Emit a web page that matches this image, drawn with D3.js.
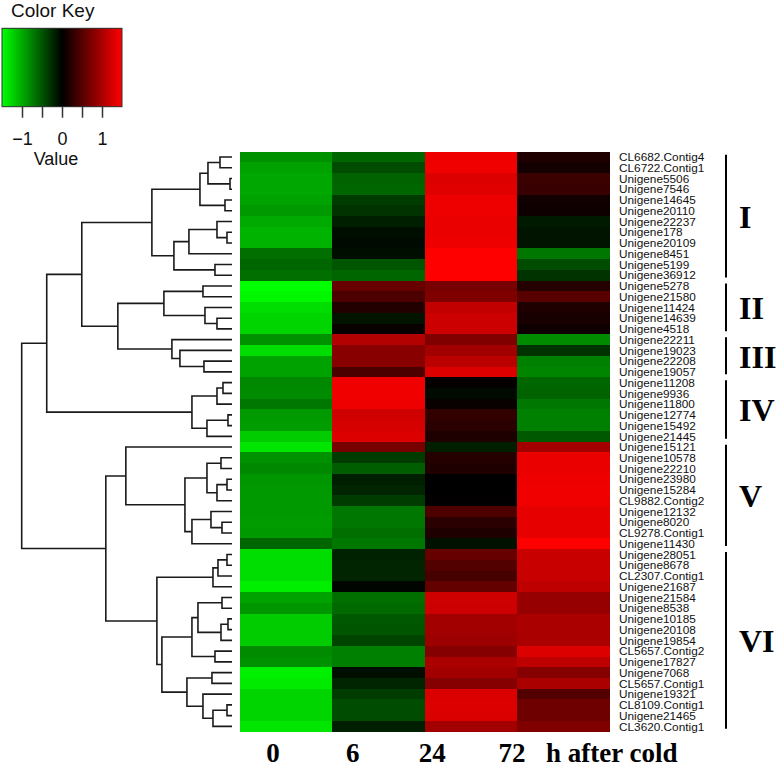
<!DOCTYPE html>
<html><head><meta charset="utf-8">
<script src="https://cdn.jsdelivr.net/npm/d3@7/dist/d3.min.js"></script>
<style>body{margin:0;background:#fff}svg{display:block}</style>
</head><body>
<script>
const timePoints = ["0","6","24","72"];
const genes = ["CL6682.Contig4","CL6722.Contig1","Unigene5506","Unigene7546","Unigene14645","Unigene20110","Unigene22237","Unigene178","Unigene20109","Unigene8451","Unigene5199","Unigene36912",
"Unigene5278","Unigene21580","Unigene11424","Unigene14639","Unigene4518",
"Unigene22211","Unigene19023","Unigene22208","Unigene19057",
"Unigene11208","Unigene9936","Unigene11800","Unigene12774","Unigene15492","Unigene21445",
"Unigene15121","Unigene10578","Unigene22210","Unigene23980","Unigene15284","CL9882.Contig2","Unigene12132","Unigene8020","CL9278.Contig1","Unigene11430",
"Unigene28051","Unigene8678","CL2307.Contig1","Unigene21687","Unigene21584","Unigene8538","Unigene10185","Unigene20108","Unigene19854","CL5657.Contig2","Unigene17827","Unigene7068","CL5657.Contig1","Unigene19321","CL8109.Contig1","Unigene21465","CL3620.Contig1"];
const values0h = [-0.85,-0.95,-0.98,-0.98,-0.95,-0.9,-1.0,-1.05,-1.05,-0.65,-0.6,-0.65,
-1.5,-1.45,-1.3,-1.25,-1.25,
-0.85,-1.3,-0.95,-0.95,
-0.8,-0.82,-0.7,-0.9,-0.92,-1.2,
-1.35,-0.85,-0.8,-0.88,-0.9,-0.9,-0.9,-0.92,-0.9,-0.6,
-1.3,-1.3,-1.3,-1.4,-0.95,-0.88,-1.2,-1.2,-1.2,-0.82,-0.85,-1.42,-1.38,-1.25,-1.25,-1.25,-1.35];
const values6h = [-0.6,-0.45,-0.58,-0.6,-0.35,-0.3,-0.18,-0.08,-0.06,-0.08,-0.5,-0.6,
0.62,0.45,0.2,-0.12,0.05,
1.05,0.8,0.8,0.45,
1.42,1.42,1.4,1.22,1.25,1.3,
0.7,-0.35,-0.55,-0.18,-0.22,-0.35,-0.7,-0.7,-0.65,-0.7,
-0.2,-0.22,-0.22,-0.03,-0.65,-0.62,-0.52,-0.5,-0.4,-0.75,-0.75,-0.08,-0.22,-0.35,-0.45,-0.45,-0.18];
const values24h = [1.4,1.42,1.3,1.32,1.4,1.4,1.38,1.38,1.4,1.5,1.5,1.5,
0.7,0.75,1.15,1.2,1.2,
0.75,0.95,1.1,1.3,
0.03,-0.06,0.05,0.3,0.25,0.18,
-0.18,0.22,0.18,0.0,0.0,0.01,0.45,0.25,0.18,-0.1,
0.6,0.48,0.42,0.58,1.22,1.2,0.95,0.95,0.92,0.78,1.0,0.95,0.78,1.28,1.3,1.28,0.95];
const values72h = [0.18,0.12,0.35,0.33,0.1,0.08,-0.15,-0.12,-0.12,-0.7,-0.45,-0.3,
0.22,0.52,0.18,0.15,0.08,
-0.82,-0.3,-0.75,-0.78,
-0.6,-0.58,-0.7,-0.75,-0.75,-0.52,
0.95,1.38,1.38,1.4,1.42,1.42,1.35,1.35,1.35,1.5,
1.18,1.18,1.18,1.12,0.88,0.88,1.0,1.0,1.0,1.3,1.12,0.78,1.0,0.48,0.65,0.65,0.75];
const series = [values0h, values6h, values24h, values72h];
const keyTicks = [-1,-0.5,0,0.5,1];
const keyTickLabels = ["-1","0","1"];
// dendrogram: [mergeHeight, left, right]; leaves are row indices
const dendrogram = [210,
  [185,
    [150,
      [80,
        [32,[24,[12,0,1],[2,2,3]],[7,4,5]],
        [58,[43,[15,6,[5,7,8]],9],[17,10,11]]],
      [114,
        [68,[29,12,13],[27,14,[15,15,16]]],
        [60,17,[52,18,[28,19,20]]]]],
    [40,[15,[9,21,22],23],[25,[4,24,25],26]]],
  [126,
    [106,27,[47,[25,[11,28,29],[15,[5,30,31],32]],[40,[21,33,[10,34,35]],36]]],
    [75,[19,[14,[5,37,38],39],40],
        [70,[40,[34,[10,41,42],[11,[4,43,44],45]],[17,46,47]],
            [45,[20,48,49],[29,50,[19,[5,51,52],53]]]]]]];
const clusterNames = ["I","II","III","IV","V","VI"];
const clusterFirst = [0,12,17,21,27,37];
const clusterLast = [11,16,20,26,36,53];
const axisTitle = "h after cold";

const W = 778, H = 770;
const svg = d3.select("body").append("svg").attr("width", W).attr("height", H);

const x = d3.scaleBand().domain(timePoints).range([240, 609]);
const y = d3.scaleBand().domain(d3.range(genes.length)).range([151.7, 731.7]);
const color = d3.scaleLinear().domain([-1.5, 0, 1.5]).range(["#00ff00", "#000000", "#ff0000"]);

// heatmap cells
const cells = [];
series.forEach((s, j) => s.forEach((v, i) => cells.push({t: timePoints[j], i, v})));
svg.append("g").selectAll("rect").data(cells).join("rect")
  .attr("x", d => x(d.t)).attr("y", d => y(d.i))
  .attr("width", x.bandwidth() + 0.5).attr("height", y.bandwidth() + 0.5)
  .attr("fill", d => color(d.v)).attr("shape-rendering", "crispEdges");

// row labels
svg.append("g").selectAll("text").data(genes).join("text")
  .attr("x", 619).attr("y", (d, i) => y(i) + y.bandwidth() / 2 + 4.2)
  .attr("font-family", "Liberation Sans, Arial, sans-serif").attr("font-size", 11.8)
  .attr("fill", "#111").text(d => d);

// dendrogram
function build(n) { return Array.isArray(n) ? {h: n[0], children: [build(n[1]), build(n[2])]} : {h: 0, leaf: n}; }
const root = d3.hierarchy(build(dendrogram));
const dx = d3.scaleLinear().domain([0, 210]).range([232, 21.7]);
root.eachAfter(nd => {
  if (nd.data.leaf !== undefined) nd.py = y(nd.data.leaf) + y.bandwidth() / 2;
  else nd.py = (nd.children[0].py + nd.children[1].py) / 2;
  nd.px = dx(nd.data.h);
});
const dg = svg.append("g").attr("stroke", "#1a1a1a").attr("stroke-width", 1.6).attr("fill", "none");
root.descendants().filter(nd => nd.children).forEach(nd => {
  const [a, b] = nd.children;
  dg.append("path").attr("d",
    `M${a.px},${a.py}H${nd.px}V${b.py}H${b.px}`);
});

// cluster bars & labels
const bars = svg.append("g");
clusterNames.forEach((name, k) => {
  const y0 = y(clusterFirst[k]) + 3, y1 = y(clusterLast[k]) + y.bandwidth() - 3;
  bars.append("line").attr("x1", 726).attr("x2", 726).attr("y1", y0).attr("y2", y1)
    .attr("stroke", "#000").attr("stroke-width", 2);
  bars.append("text").attr("x", 739).attr("y", (y0 + y1) / 2 + 12)
    .attr("font-family", "Liberation Serif, Times New Roman, serif").attr("font-weight", "bold")
    .attr("font-size", 32).attr("fill", "#000").text(name);
});

// bottom labels
const lx = d3.scalePoint().domain(timePoints).range([273, 512]);
const bl = svg.append("g").attr("font-family", "Liberation Serif, Times New Roman, serif")
  .attr("font-weight", "bold").attr("font-size", 27).attr("fill", "#000");
bl.selectAll("text.t").data(timePoints).join("text").attr("class", "t")
  .attr("x", d => lx(d)).attr("y", 762).attr("text-anchor", "middle").text(d => d);
bl.append("text").attr("x", 546).attr("y", 762).text(axisTitle);

// color key
const kx = d3.scaleLinear().domain([-1.5, 1.5]).range([2, 122]);
const key = svg.append("g");
key.append("text").attr("x", 11).attr("y", 16.5).attr("font-family", "Liberation Sans, Arial, sans-serif")
  .attr("font-size", 19).attr("fill", "#111").text("Color Key");
const steps = d3.range(-1.5, 1.5, 0.025);
key.selectAll("rect.k").data(steps).join("rect").attr("class", "k")
  .attr("x", d => kx(d)).attr("y", 28.3).attr("width", kx(0.025) - kx(0) + 0.4).attr("height", 78.4)
  .attr("fill", d => color(d + 0.0125)).attr("shape-rendering", "crispEdges");
key.append("rect").attr("x", kx(-1.5)).attr("y", 28.3).attr("width", kx(1.5) - kx(-1.5)).attr("height", 78.4)
  .attr("fill", "none").attr("stroke", "#333").attr("stroke-width", 1);
const kAxis = d3.axisBottom(kx).tickValues(keyTicks).tickSize(11).tickFormat(d => keyTickLabels.includes(String(d)) ? (d < 0 ? "\u22121" : String(d)) : "");
const kg = key.append("g").attr("transform", "translate(0,106.7)").call(kAxis);
kg.select(".domain").remove();
kg.selectAll(".tick line").attr("stroke", "#333").attr("stroke-width", 1.5);
kg.selectAll(".tick text").attr("font-family", "Liberation Sans, Arial, sans-serif").attr("font-size", 18)
  .attr("fill", "#111").attr("dy", 0).attr("y", 38.5);
key.append("text").attr("x", 56).attr("y", 165).attr("text-anchor", "middle")
  .attr("font-family", "Liberation Sans, Arial, sans-serif").attr("font-size", 18).attr("fill", "#111").text("Value");
</script>
</body></html>
